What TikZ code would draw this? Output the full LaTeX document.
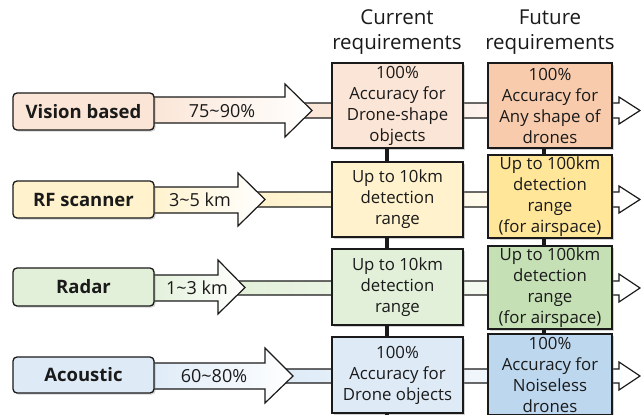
\documentclass[tikz,border=0pt]{standalone}
\usepackage{fontspec}
\setmainfont{Open Sans}
\usetikzlibrary{shadows}

\definecolor{peachA}{HTML}{FBE5D6}
\definecolor{peachB}{HTML}{F8CBAD}
\definecolor{yelA}{HTML}{FFF2CC}
\definecolor{yelB}{HTML}{FFE699}
\definecolor{grnA}{HTML}{E2F0D9}
\definecolor{grnB}{HTML}{C5E0B4}
\definecolor{bluA}{HTML}{DEEBF7}
\definecolor{bluB}{HTML}{BDD7EE}
\definecolor{ink}{HTML}{1A1A1A}

\tikzset{
  shade/.style={drop shadow={shadow xshift=1.6pt, shadow yshift=-1.6pt, opacity=0.35}},
  tag/.style={draw=ink, line width=1.3pt, rounded corners=4pt, inner sep=0pt,
    minimum width=141pt, shade, text=ink,
    font=\bfseries\fontsize{18.5}{22}\selectfont},
  reqbox/.style={draw=ink, line width=1.3pt, inner sep=0pt, align=center, shade,
    text=ink, font=\fontsize{16.8}{21}\selectfont},
  curbox/.style={reqbox, minimum width=131pt},
  futbox/.style={reqbox, minimum width=124pt},
  flow/.style={draw=ink, line width=1.2pt, line join=miter},
  spine/.style={line width=4pt, ink},
  head/.style={font=\fontsize{20.5}{25}\selectfont, align=center, text=ink},
  amount/.style={font=\fontsize{18}{20}\selectfont, text=ink}
}

\begin{document}
\begin{tikzpicture}[x=1pt,y=-1pt]
\useasboundingbox[fill=white] (0,0) rectangle (641,415);

% long bands running behind both requirement columns
\path[flow, left color=peachA, right color=white]
  (300,103) -- (619,103) -- (619,97) -- (640,110.5) -- (619,124) -- (619,118) -- (300,118) -- cycle;
\path[flow, left color=yelA, right color=white]
  (250,192) -- (619,192) -- (619,186) -- (640,199.5) -- (619,213) -- (619,207) -- (250,207) -- cycle;
\path[flow, left color=grnA, right color=white]
  (230,281) -- (619,281) -- (619,274) -- (640,288) -- (619,302) -- (619,295) -- (230,295) -- cycle;
\path[flow, left color=bluA, right color=white]
  (280,369) -- (619,369) -- (619,362) -- (640,376) -- (619,390) -- (619,383) -- (280,383) -- cycle;

% column headers
\node[head] (hcur) at (397,32) {Current\\requirements};
\node[head] (hfut) at (550,32) {Future\\requirements};

% requirement boxes
\node[curbox, fill=peachA, minimum height=85pt] (C1) at (397.5,105.5)
  {100\%\\Accuracy for\\Drone-shape\\objects};
\node[curbox, fill=yelA, minimum height=75pt] (C2) at (397.5,199.5)
  {Up to 10km\\detection\\range};
\node[curbox, fill=grnA, minimum height=76pt] (C3) at (397.5,287)
  {Up to 10km\\detection\\range};
\node[curbox, fill=bluA, minimum height=76pt] (C4) at (397.5,375)
  {100\%\\Accuracy for\\Drone objects};

\node[futbox, fill=peachB, minimum height=85pt] (F1) at (550,105.5)
  {100\%\\Accuracy for\\Any shape of\\drones};
\node[futbox, fill=yelB, minimum height=83pt] (F2) at (550,196.5)
  {Up to 100km\\detection\\range\\(for airspace)};
\node[futbox, fill=grnB, minimum height=83pt] (F3) at (550,287.5)
  {Up to 100km\\detection\\range\\(for airspace)};
\node[futbox, fill=bluB, minimum height=81pt] (F4) at (550,374.5)
  {100\%\\Accuracy for\\Noiseless\\drones};

% thick links between stacked boxes
\coordinate (cbot) at (387,415);
\draw[spine] ([xshift=-10.5pt]C1.south) -- ([xshift=-10.5pt]C2.north);
\draw[spine] ([xshift=-10.5pt]C2.south) -- ([xshift=-10.5pt]C3.north);
\draw[spine] ([xshift=-10.5pt]C3.south) -- ([xshift=-10.5pt]C4.north);
\draw[spine] ([xshift=-10.5pt]C4.south) -- (cbot);
\draw[spine] ([xshift=-6pt]F1.south) -- ([xshift=-6pt]F2.north);
\draw[spine] ([xshift=-6pt]F2.south) -- ([xshift=-6pt]F3.north);
\draw[spine] ([xshift=-6pt]F3.south) -- ([xshift=-6pt]F4.north);

% short arrows carrying today's performance
\path[flow, left color=peachA, right color=white]
  (150,97) -- (285,97) -- (285,84) -- (312,110.5) -- (285,137) -- (285,123) -- (150,123) -- cycle;
\path[flow, left color=yelA, right color=white]
  (150,187) -- (238,187) -- (238,173) -- (265,199.5) -- (238,226) -- (238,213) -- (150,213) -- cycle;
\path[flow, left color=grnA, right color=white]
  (150,275) -- (218,275) -- (218,260) -- (245,287.5) -- (218,314) -- (218,301) -- (150,301) -- cycle;
\path[flow, left color=bluA, right color=white]
  (150,363) -- (265,363) -- (265,348) -- (293,376) -- (265,403) -- (265,389) -- (150,389) -- cycle;

\node[amount] (a1) at (222,111) {75\char"007E 90\%};
\node[amount] (a2) at (200,200) {3\char"007E 5 km};
\node[amount] (a3) at (197,288) {1\char"007E 3 km};
\node[amount] (a4) at (214,376) {60\char"007E 80\%};

% sensing technologies
\node[tag, fill=peachA, minimum height=37pt] (vis) at (83.5,111.5) {Vision based};
\node[tag, fill=yelA, minimum height=37pt] (rf) at (83.5,199.5) {RF scanner};
\node[tag, fill=grnA, minimum height=38pt] (rad) at (83.5,287) {Radar};
\node[tag, fill=bluA, minimum height=36pt] (aco) at (83.5,375) {Acoustic};
\end{tikzpicture}
\end{document}
